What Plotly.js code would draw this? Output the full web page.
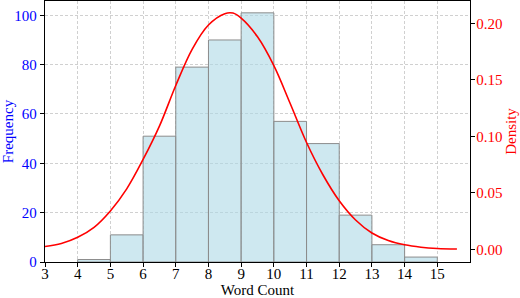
<!DOCTYPE html>
<html>
<head>
<meta charset="utf-8">
<script src="https://cdn.plot.ly/plotly-3.0.1.min.js"></script>
<style>html,body{margin:0;padding:0;background:#fff;}#chart{width:520px;height:298px;}</style>
</head>
<body>
<div id="chart"></div>
<script>
// Histogram bins (left edges, width 1) and frequencies
var binStarts = [4, 5, 6, 7, 8, 9, 10, 11, 12, 13, 14];
var frequencies = [1, 11, 51, 79, 90, 101, 57, 48, 19, 7, 2];

// Density curve points
var densityX = [3.0, 3.5, 4.0, 4.5, 5.0, 5.5, 6.0, 6.5, 7.0, 7.5, 8.0, 8.5, 8.75, 9.0, 9.5, 10.0, 10.5, 11.0, 11.5, 12.0, 12.5, 13.0, 13.5, 14.0, 14.5, 15.0, 15.6];
var densityY = [0.0025, 0.0052, 0.0107, 0.0195, 0.0340, 0.0535, 0.0795, 0.1090, 0.1450, 0.1770, 0.1985, 0.2085, 0.2090, 0.2045, 0.1880, 0.1625, 0.1290, 0.0945, 0.0660, 0.0430, 0.0260, 0.0145, 0.0078, 0.0040, 0.0019, 0.0008, 0.0003];

var xTicks = [3, 4, 5, 6, 7, 8, 9, 10, 11, 12, 13, 14, 15];
var yTicks = [0, 20, 40, 60, 80, 100];
var y2Ticks = [0.00, 0.05, 0.10, 0.15, 0.20];
var y2TickText = ['0.00', '0.05', '0.10', '0.15', '0.20'];

var fontFam = 'Liberation Serif';

var bars = {
  type: 'bar',
  x: binStarts,
  y: frequencies,
  width: 1,
  offset: 0,
  marker: {color: 'rgba(173,216,230,0.6)', line: {color: 'rgb(140,140,140)', width: 1}},
  hoverinfo: 'none',
  showlegend: false
};

var curve = {
  type: 'scatter',
  mode: 'lines',
  x: densityX,
  y: densityY,
  yaxis: 'y2',
  line: {color: '#ff0000', width: 1.6, shape: 'spline', smoothing: 1},
  hoverinfo: 'none',
  showlegend: false
};

var gridCol = '#c4c4c4';
var gridDash = '3px,2px';

var layout = {
  width: 520,
  height: 298,
  margin: {l: 45, r: 50, t: 1, b: 36},
  paper_bgcolor: '#ffffff',
  plot_bgcolor: '#ffffff',
  font: {family: fontFam, size: 15, color: '#000'},
  bargap: 0,
  xaxis: {
    range: [3, 16],
    tickvals: xTicks,
    ticktext: xTicks.map(String),
    ticks: 'outside', ticklen: 4, tickwidth: 1, tickcolor: '#000',
    ticklabelstandoff: -6,
    showline: true, linecolor: '#000', linewidth: 1.2, mirror: true,
    showgrid: true, gridcolor: gridCol, griddash: gridDash, gridwidth: 0.8,
    zeroline: false,
    tickfont: {family: fontFam, size: 15, color: '#000'},
    title: {text: 'Word Count', font: {family: fontFam, size: 15, color: '#000'}, standoff: 1}
  },
  yaxis: {
    range: [0, 105.8],
    tickvals: yTicks,
    ticktext: yTicks.map(String),
    ticks: 'outside', ticklen: 4, tickwidth: 1, tickcolor: '#000',
    showline: true, linecolor: '#000', linewidth: 1.2,
    showgrid: true, gridcolor: gridCol, griddash: gridDash, gridwidth: 0.8,
    zeroline: false,
    tickfont: {family: fontFam, size: 15, color: '#0000ff'},
    title: {text: 'Frequency', font: {family: fontFam, size: 15, color: '#0000ff'}, standoff: 4}
  },
  yaxis2: {
    overlaying: 'y',
    side: 'right',
    range: [-0.0112, 0.2197],
    tickvals: y2Ticks,
    ticktext: y2TickText,
    ticks: 'outside', ticklen: 4, tickwidth: 1, tickcolor: '#000',
    ticklabelstandoff: -2,
    showline: true, linecolor: '#000', linewidth: 1.2,
    showgrid: false, zeroline: false,
    tickfont: {family: fontFam, size: 15, color: '#ff0000'},
    title: {text: 'Density', font: {family: fontFam, size: 15, color: '#ff0000'}, standoff: 4}
  }
};

Plotly.newPlot('chart', [bars, curve], layout, {staticPlot: true, displayModeBar: false});
</script>
</body>
</html>
